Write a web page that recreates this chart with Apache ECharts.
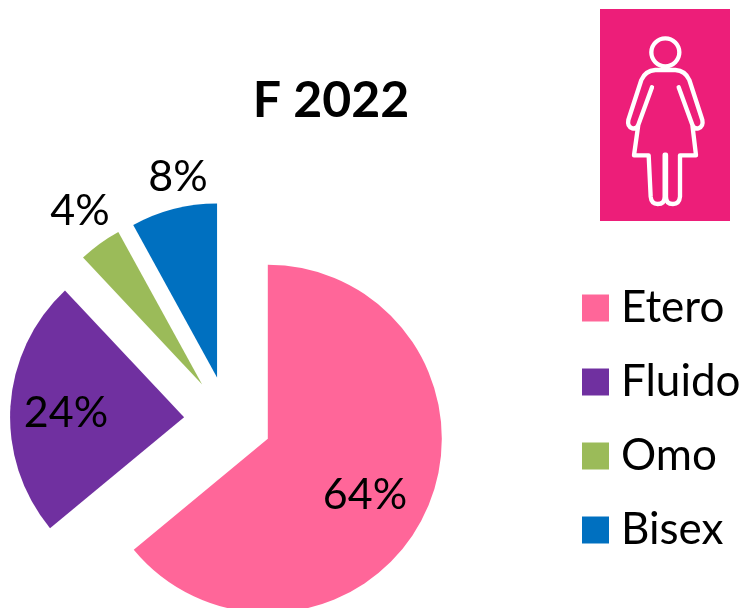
<!DOCTYPE html>
<html>
<head>
<meta charset="utf-8">
<style>
  html, body { margin: 0; padding: 0; background: #fff; }
  #chart { width: 744px; height: 608px; }
</style>
<script src="https://cdn.jsdelivr.net/npm/echarts@6/dist/echarts.min.js"></script>
</head>
<body>
<div id="chart"></div>
<script>
const categories = ['Etero', 'Fluido', 'Omo', 'Bisex']
const shares = [64, 24, 4, 8]
const colors = ['#FF6699', '#7030A0', '#9BBB59', '#0070C0']
const labelSpots = [[365, 495], [66, 413], [80, 211], [178, 177]]

const FONT = 'Lato, "Open Sans", sans-serif'

// woman pictogram, drawn in 3x coords then scaled down
const bodyPath = 'M196,210 L256,210 Q286,212 298,240 L337,360 Q341,380 325,385 Q312,388 307,374 L266,262 L307,374 ' +
  'L318,466 L270,466 L270,590 Q268,612 249,612 Q228,612 228,590 L228,464 L224,464 L224,590 ' +
  'Q224,612 203,612 Q184,612 182,590 L176,466 L132,466 L145,374 L186,262 L145,374 Q140,388 127,385 ' +
  'Q111,380 115,360 L154,240 Q166,212 196,210 Z'

echarts.graphic.registerShape('womanBody', echarts.graphic.extendPath(bodyPath))

const chart = echarts.init(document.getElementById('chart'), null, { renderer: 'canvas' })

// pie labels ignore x/y on selected slices, so they go on as graphic text
const shareLabels = shares.map((v, i) => ({
  type: 'text',
  x: labelSpots[i][0],
  y: labelSpots[i][1],
  z: 10,
  silent: true,
  style: {
    text: v + '%',
    fill: '#000',
    font: '43px ' + FONT,
    align: 'center',
    verticalAlign: 'middle'
  }
}))

chart.setOption({
  animation: false,
  backgroundColor: '#fff',
  title: {
    text: 'F 2022',
    left: 326,
    top: 71,
    textAlign: 'center',
    textStyle: { fontFamily: FONT, fontSize: 50, fontWeight: 'bold', color: '#000' }
  },
  legend: {
    orient: 'vertical',
    left: 577,
    top: 281,
    icon: 'rect',
    itemWidth: 27,
    itemHeight: 27,
    itemGap: 30,
    selectedMode: false,
    data: categories,
    textStyle: { fontFamily: FONT, fontSize: 44, color: '#000', padding: [0, 0, 0, 7] }
  },
  graphic: [
    { type: 'rect', shape: { x: 600, y: 9, width: 130, height: 212 }, style: { fill: '#ED1E79' }, silent: true },
    {
      type: 'circle', x: 590, y: 0, scaleX: 1 / 3, scaleY: 1 / 3,
      shape: { cx: 226, cy: 157, r: 42 },
      style: { fill: 'none', stroke: '#fff', lineWidth: 13 }, silent: true
    },
    {
      type: 'womanBody', x: 590, y: 0, scaleX: 1 / 3, scaleY: 1 / 3,
      style: { fill: 'none', stroke: '#fff', lineWidth: 13, lineJoin: 'round' }, silent: true
    },
    ...shareLabels
  ],
  series: [
    {
      type: 'pie',
      center: [228, 420],
      radius: [0, 174],
      startAngle: 90,
      clockwise: true,
      selectedMode: 'multiple',
      selectedOffset: 44,
      silent: true,
      color: colors,
      data: categories.map((name, i) => ({ name, value: shares[i], selected: true })),
      label: { show: false },
      labelLine: { show: false }
    }
  ]
})

window.addEventListener('resize', () => chart.resize())
</script>
</body>
</html>
